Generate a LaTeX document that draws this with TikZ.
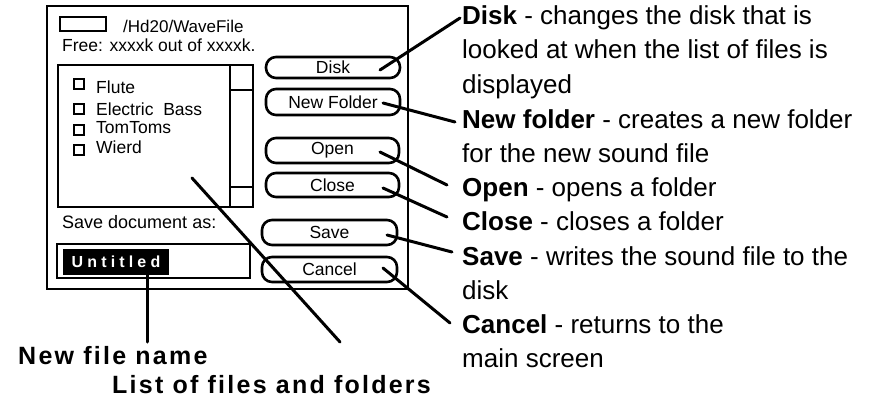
\documentclass[tikz,border=0pt]{standalone}
\usepackage{fontspec}
\setmainfont{Liberation Sans}
\usetikzlibrary{calc}
\begin{document}
\begin{tikzpicture}[x=1pt,y=-1pt,
  frame/.style={draw=black,line width=2.6pt,inner sep=0pt},
  btn/.style={draw=black,line width=2.6pt,rounded corners=10pt,minimum width=134pt,minimum height=24pt,inner sep=0pt,font=\fontsize{17.5}{20}\selectfont},
  dlg/.style={anchor=base west,inner sep=0pt,font=\fontsize{17.5}{20}\selectfont},
  desc/.style={anchor=base west,inner sep=0pt,font=\fontsize{26}{30}\selectfont},
  conn/.style={line width=3pt,line cap=round},
  chk/.style={draw=black,line width=2.4pt,minimum size=10pt,inner sep=0pt},
  lbl/.style={anchor=base west,inner sep=0pt,font=\fontsize{25}{28}\selectfont\bfseries\addfontfeature{LetterSpace=9}}
]
\useasboundingbox (0,0) rectangle (874,404);
% dialog
\node[frame,minimum width=361pt,minimum height=283pt] (dialog) at (227.5,147.5) {};
\node[frame,line width=2pt,minimum width=46pt,minimum height=14pt] (drive) at (83,24) {};
\node[dlg,font=\fontsize{17}{20}\selectfont] (path) at (123,33) {/Hd20/WaveFile};
\node[dlg] (free) at (62,52) {Free: xxxxk out of xxxxk.};
% list
\node[frame,minimum width=195pt,minimum height=142pt] (list) at (155.5,136) {};
\draw[line width=2.6pt] (230,65) -- (230,207);
\draw[line width=2.6pt] (230,90) -- (253,90);
\draw[line width=2.6pt] (230,187) -- (253,187);
\node[chk] (c1) at (79,84) {};
\node[chk] (c2) at (79,109) {};
\node[chk] (c3) at (79,130) {};
\node[chk] (c4) at (79,150) {};
\node[dlg] (i1) at (96,93) {Flute};
\node[dlg] (i2) at (96,115) {Electric\ \ Bass};
\node[dlg] (i3) at (96,133) {TomToms};
\node[dlg] (i4) at (96,153) {Wierd};
% save as
\node[dlg,font=\fontsize{18}{20}\selectfont] (sdoc) at (62,228) {Save document as:};
\node[frame,minimum width=193pt,minimum height=34pt] (namebox) at (153.5,261) {};
\node[fill=black,minimum width=106pt,minimum height=26pt,inner sep=0pt,text=white,
  font=\fontsize{16}{18}\selectfont\bfseries\addfontfeature{LetterSpace=26}] (untitled) at (116,262) {Untitled};
% buttons
\node[btn,minimum height=21pt] (bdisk) at (333,67.5) {Disk};
\node[btn,minimum height=26pt] (bnew) at (333,102) {New Folder};
\node[btn,minimum width=133pt,minimum height=25pt] (bopen) at (332.5,150.5) {Open};
\node[btn,minimum width=133pt,minimum height=24pt] (bclose) at (332.5,185) {Close};
\node[btn,minimum width=135pt,minimum height=25pt] (bsave) at (329.5,232.5) {Save};
\node[btn,minimum width=135pt,minimum height=25pt] (bcancel) at (329.5,269.5) {Cancel};
% descriptions
\node[desc] (d1) at (462,25) {\textbf{Disk} - changes the disk that is};
\node[desc] (d1b) at (462,59) {looked at when the list of files is};
\node[desc] (d1c) at (462,93) {displayed};
\node[desc] (d2) at (462,128) {\textbf{New folder} - creates a new folder};
\node[desc] (d2b) at (462,162) {for the new sound file};
\node[desc] (d3) at (462,196) {\textbf{Open} - opens a folder};
\node[desc] (d4) at (462,230) {\textbf{Close} - closes a folder};
\node[desc] (d5) at (462,265) {\textbf{Save} - writes the sound file to the};
\node[desc] (d5b) at (462,299) {disk};
\node[desc] (d6) at (462,333) {\textbf{Cancel} - returns to the};
\node[desc] (d6b) at (462,367) {main screen};
% bottom labels
\node[lbl] (nfn) at (18,364) {New file name};
\node[lbl] (lff) at (112,393) {List of files and folders};
% connector start points
\coordinate (s1) at (380,70);
\coordinate (s2) at (383,103);
\coordinate (s3) at (380,152);
\coordinate (s4) at (383,188);
\coordinate (s5) at (387,235);
\coordinate (s6) at (383,268);
\coordinate (sU) at (147,275);
\coordinate (eU) at (147,342);
\coordinate (sL) at (192,178);
\coordinate (eL) at (340,342);
\draw[conn] (s1) -- ([xshift=-2pt,yshift=7pt]d1.base west);
\draw[conn] (s2) -- ([xshift=-7pt,yshift=6pt]d2.base west);
\draw[conn] (s3) -- ([xshift=-15pt,yshift=11pt]d3.base west);
\draw[conn] (s4) -- ([xshift=-15pt,yshift=13pt]d4.base west);
\draw[conn] (s5) -- ([xshift=-10pt,yshift=13pt]d5.base west);
\draw[conn] (s6) -- ([xshift=-12pt,yshift=10pt]d6.base west);
\draw[conn] (sU) -- (eU);
\draw[conn] (sL) -- (eL);
\end{tikzpicture}
\end{document}
